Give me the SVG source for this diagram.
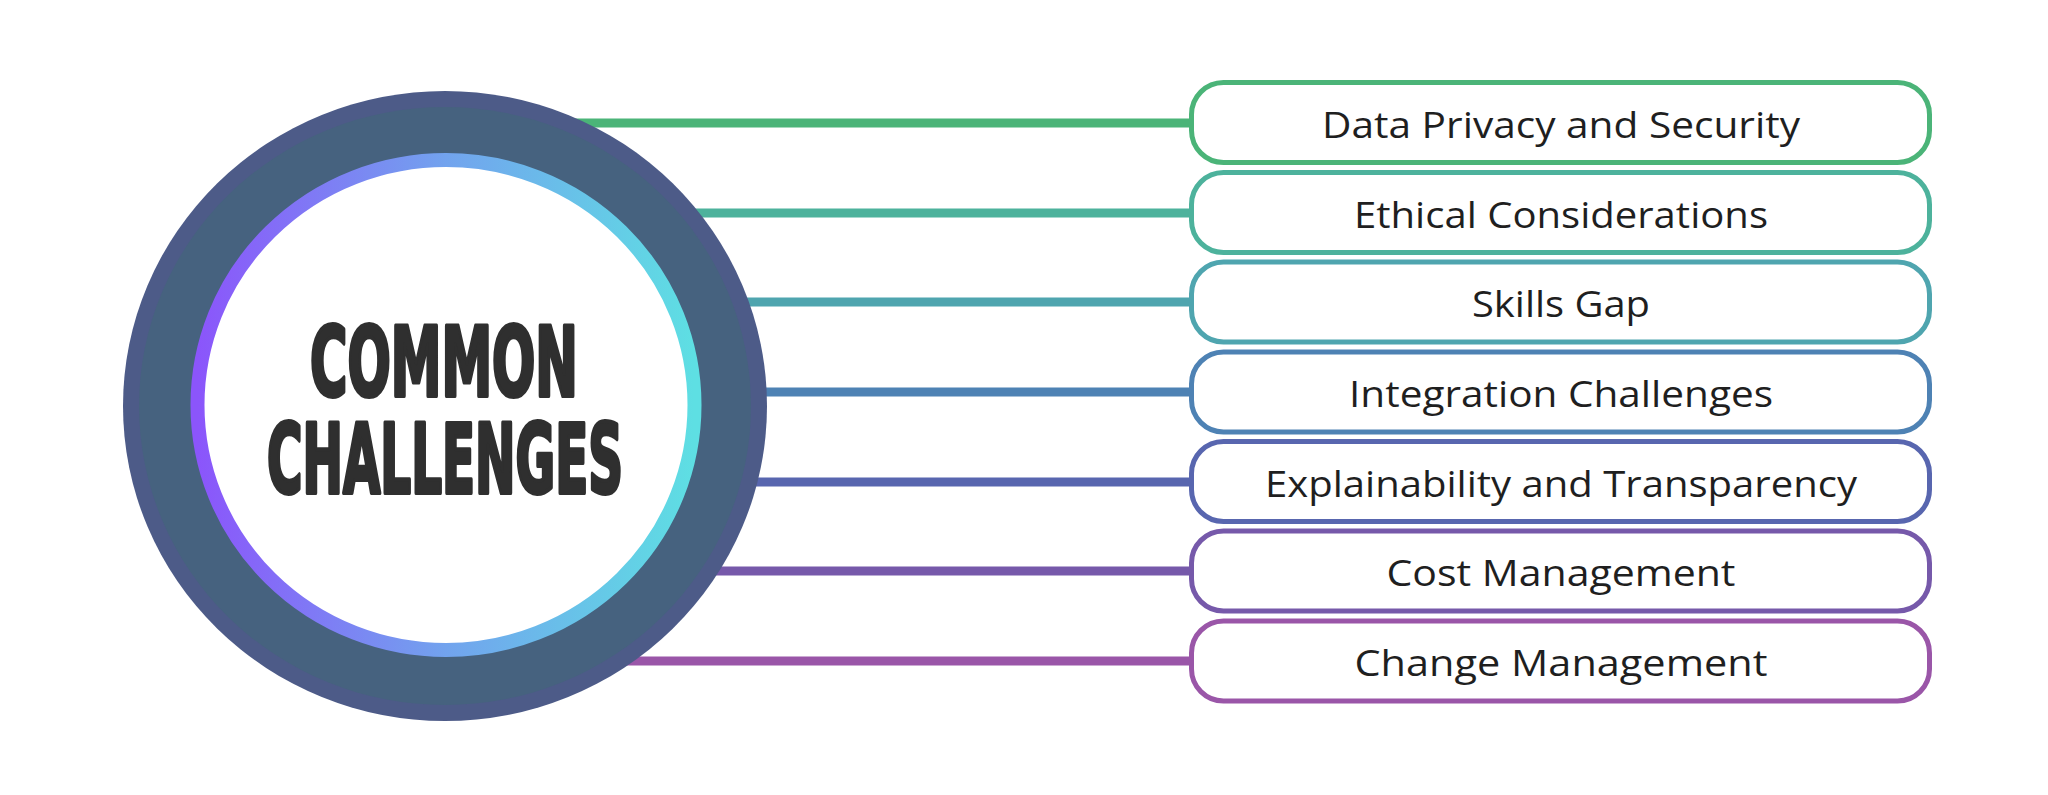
<svg xmlns="http://www.w3.org/2000/svg" width="2048" height="795" viewBox="0 0 2048 795">
  <defs>
    <linearGradient id="ringGrad" x1="0" y1="0" x2="1" y2="0">
      <stop offset="0" stop-color="#8B55FB"/>
      <stop offset="0.5" stop-color="#72A3EE"/>
      <stop offset="1" stop-color="#5EDFE3"/>
    </linearGradient>
    <style>
      .conn { stroke-width: 9; fill: none; }
      .box { fill: #FFFFFF; stroke-width: 5; }
      .label { font-family: "Open Sans", "Noto Sans", "Liberation Sans", sans-serif; font-size: 36px; fill: #1F1F1F; text-anchor: middle; }
      .title { font-family: "DejaVu Sans Condensed", "DejaVu Sans", sans-serif; font-stretch: condensed; font-weight: bold; font-size: 80px; fill: #2F2F2F; stroke: #2F2F2F; stroke-width: 3.5; stroke-linejoin: round; text-anchor: middle; }
    </style>
  </defs>
  <rect x="0" y="0" width="2048" height="795" fill="#FFFFFF"/>

  <g id="connectors">
    <line class="conn" x1="445" y1="123" x2="1192" y2="123" stroke="#4BB478"/>
    <line class="conn" x1="445" y1="213" x2="1192" y2="213" stroke="#4DB29C"/>
    <line class="conn" x1="445" y1="302" x2="1192" y2="302" stroke="#4FA5AF"/>
    <line class="conn" x1="445" y1="392" x2="1192" y2="392" stroke="#4E82B4"/>
    <line class="conn" x1="445" y1="482" x2="1192" y2="482" stroke="#5866AF"/>
    <line class="conn" x1="445" y1="571" x2="1192" y2="571" stroke="#7659AA"/>
    <line class="conn" x1="445" y1="661" x2="1192" y2="661" stroke="#9A56A8"/>
  </g>

  <g id="center">
    <ellipse cx="445" cy="406" rx="322" ry="315" fill="#4D5B88"/>
    <ellipse cx="445" cy="406" rx="306" ry="299" fill="#46627F"/>
    <ellipse cx="446" cy="405" rx="248.5" ry="245" fill="#FFFFFF" stroke="url(#ringGrad)" stroke-width="14"/>
    <text class="title" transform="translate(444 396) scale(1 1.2)" x="0" y="0" textLength="268" lengthAdjust="spacingAndGlyphs">COMMON</text>
    <text class="title" transform="translate(445 493) scale(1 1.2)" x="0" y="0" textLength="356" lengthAdjust="spacingAndGlyphs">CHALLENGES</text>
  </g>

  <g id="box1">
    <rect class="box" x="1191.5" y="82.5" width="738" height="80" rx="32" stroke="#4BB478"/>
    <text class="label" x="1561" y="138" textLength="478" lengthAdjust="spacingAndGlyphs">Data Privacy and Security</text>
  </g>
  <g id="box2">
    <rect class="box" x="1191.5" y="172.5" width="738" height="80" rx="32" stroke="#4DB29C"/>
    <text class="label" x="1561" y="228" textLength="414" lengthAdjust="spacingAndGlyphs">Ethical Considerations</text>
  </g>
  <g id="box3">
    <rect class="box" x="1191.5" y="262" width="738" height="80" rx="32" stroke="#4FA5AF"/>
    <text class="label" x="1561" y="317" textLength="178" lengthAdjust="spacingAndGlyphs">Skills Gap</text>
  </g>
  <g id="box4">
    <rect class="box" x="1191.5" y="352" width="738" height="80" rx="32" stroke="#4E82B4"/>
    <text class="label" x="1561" y="407" textLength="424" lengthAdjust="spacingAndGlyphs">Integration Challenges</text>
  </g>
  <g id="box5">
    <rect class="box" x="1191.5" y="441.5" width="738" height="80" rx="32" stroke="#5866AF"/>
    <text class="label" x="1561" y="497" textLength="592" lengthAdjust="spacingAndGlyphs">Explainability and Transparency</text>
  </g>
  <g id="box6">
    <rect class="box" x="1191.5" y="531" width="738" height="80" rx="32" stroke="#7659AA"/>
    <text class="label" x="1561" y="586" textLength="349" lengthAdjust="spacingAndGlyphs">Cost Management</text>
  </g>
  <g id="box7">
    <rect class="box" x="1191.5" y="621" width="738" height="80" rx="32" stroke="#9A56A8"/>
    <text class="label" x="1561" y="676" textLength="413" lengthAdjust="spacingAndGlyphs">Change Management</text>
  </g>
</svg>
